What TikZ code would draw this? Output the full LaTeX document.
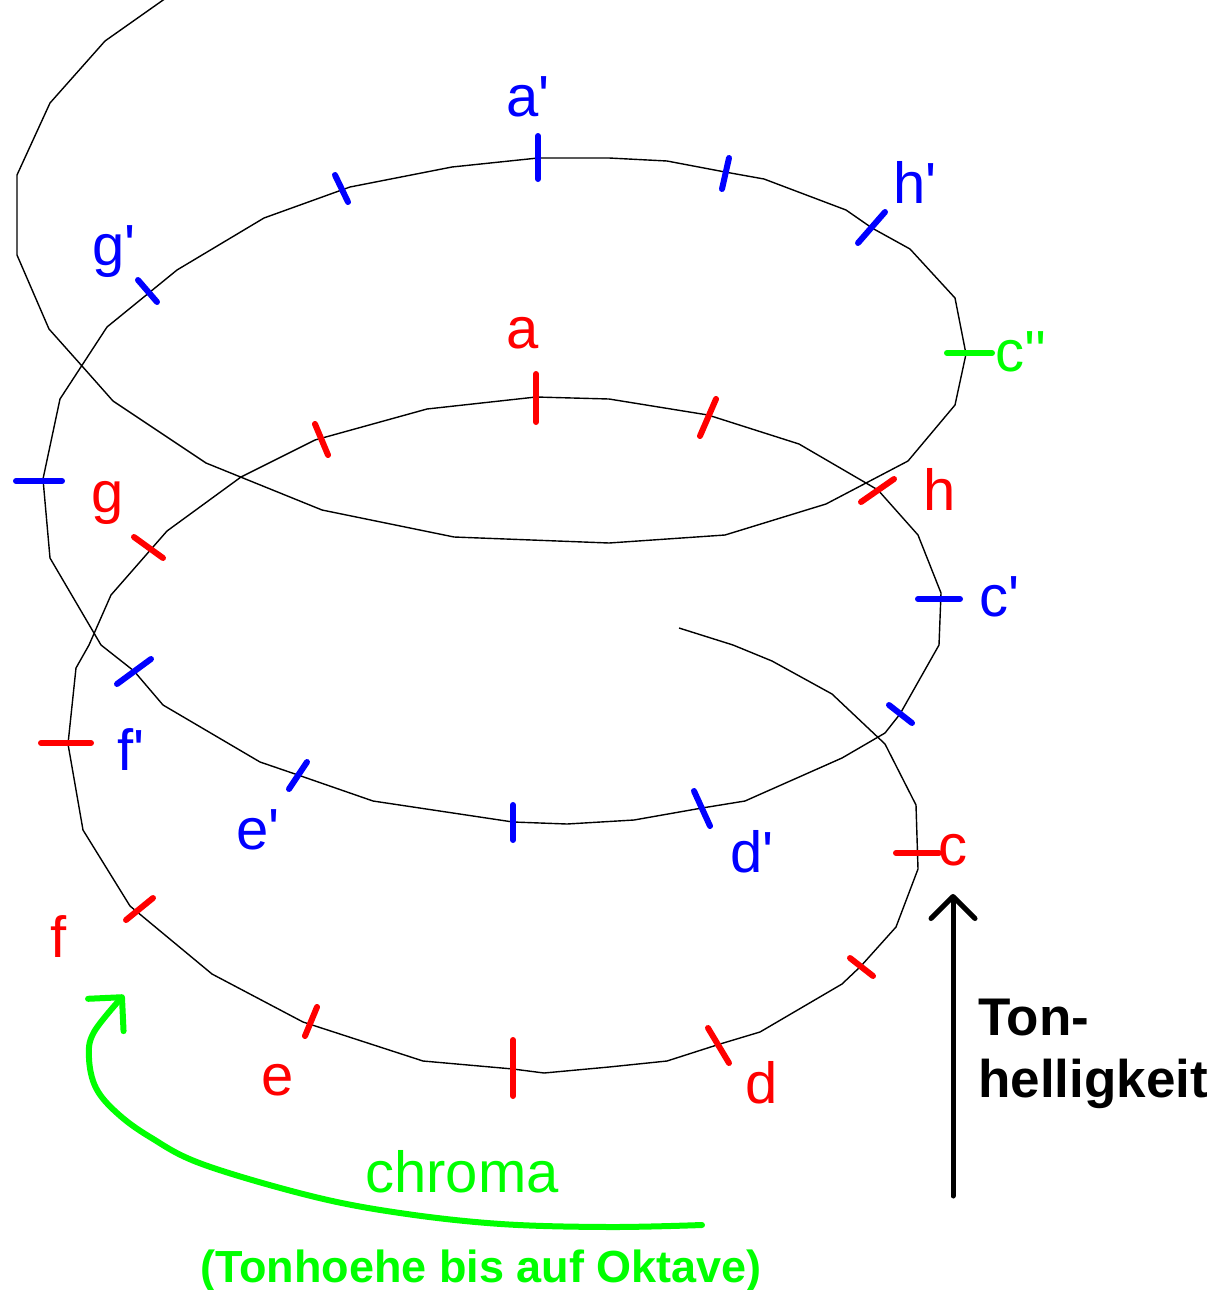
\documentclass[tikz,border=0pt]{standalone}
\usepackage{fontspec}
\setmainfont{Liberation Sans}
\usepackage{tikz}
\usetikzlibrary{arrows.meta}
\definecolor{tonred}{HTML}{FF0000}
\definecolor{tonblue}{HTML}{0000FF}
\definecolor{tongreen}{HTML}{00FF00}
\newcommand{\apos}{\textquotesingle}

\begin{document}
\begin{tikzpicture}[x=0.5pt, y=-0.5pt,
    helix/.style={black, line width=0.7pt, line join=round},
    tick/.style={line width=3pt, line cap=round},
    lbl/.style={font=\fontsize{29}{34}\selectfont, inner sep=0pt},
    axislbl/.style={font=\bfseries\fontsize{26.5}{31}\selectfont, inner sep=0pt, align=left}]
    \useasboundingbox (0,0) rectangle (1218,1290);

    % the spiral, drawn as one polyline
    \draw[helix] (679,628) -- (733,645) -- (772,661) -- (832,694) -- (885,744) -- (916,805)
      -- (918,869) -- (896,927) -- (861,966) -- (842,984) -- (760,1032) -- (720,1044)
      -- (667,1061) -- (609,1067) -- (544,1073) -- (513,1069) -- (423,1061) -- (303,1022)
      -- (212,974) -- (130,906) -- (83,830) -- (68,744) -- (76,668) -- (89,645) -- (111,595)
      -- (167,531) -- (241,477) -- (315,440) -- (427,409) -- (536,397) -- (609,399)
      -- (708,415) -- (799,444) -- (878,490) -- (918,535) -- (941,593) -- (939,645)
      -- (900,714) -- (885,733) -- (842,758) -- (745,801) -- (702,808) -- (634,820)
      -- (567,824) -- (513,822) -- (373,801) -- (298,775) -- (260,762) -- (163,705)
      -- (134,671) -- (101,645) -- (50,558) -- (43,479) -- (60,399) -- (107,327)
      -- (150,292) -- (177,270) -- (264,218) -- (350,187) -- (452,167) -- (538,158)
      -- (609,158) -- (667,161) -- (725,172) -- (764,179) -- (846,210) -- (872,228)
      -- (910,249) -- (955,298) -- (966,354) -- (955,405) -- (908,461) -- (826,504)
      -- (725,535) -- (609,543) -- (454,537) -- (322,510) -- (206,463) -- (113,401)
      -- (82,366) -- (49,329) -- (17,255) -- (17,175) -- (50,103) -- (105,41) -- (166,-2);

    % lower octave
    \draw[tick, tonred] (896,853) -- (939,853);
    \draw[tick, tonred] (850,958) -- (873,976);
    \draw[tick, tonred] (708,1028) -- (729,1063);
    \draw[tick, tonred] (513,1040) -- (513,1096);
    \draw[tick, tonred] (317,1007) -- (305,1036);
    \draw[tick, tonred] (153,898) -- (126,920);
    \draw[tick, tonred] (41,743) -- (91,743);
    \draw[tick, tonred] (134,537) -- (163,558);
    \draw[tick, tonred] (315,424) -- (328,455);
    \draw[tick, tonred] (536,374) -- (536,422);
    \draw[tick, tonred] (716,399) -- (700,436);
    \draw[tick, tonred] (894,479) -- (861,502);
    % upper octave
    \draw[tick, tonblue] (918,599) -- (960,599);
    \draw[tick, tonblue] (889,705) -- (912,723);
    \draw[tick, tonblue] (694,791) -- (710,826);
    \draw[tick, tonblue] (513,805) -- (513,840);
    \draw[tick, tonblue] (307,762) -- (289,789);
    \draw[tick, tonblue] (151,659) -- (117,684);
    \draw[tick, tonblue] (16,481) -- (62,481);
    \draw[tick, tonblue] (138,280) -- (157,302);
    \draw[tick, tonblue] (335,175) -- (348,202);
    \draw[tick, tonblue] (538,136) -- (538,179);
    \draw[tick, tonblue] (729,158) -- (722,189);
    \draw[tick, tonblue] (885,212) -- (858,243);
    \draw[tick, tongreen] (947,353) -- (992,353);

    \node[lbl, tonred] (c) at (953,850) {c};
    \node[lbl, tonred] (d) at (762,1083) {d};
    \node[lbl, tonred] (e) at (278,1080) {e};
    \node[lbl, tonred] (f) at (59,937) {f};
    \node[lbl, tonred] (g) at (108,503) {g};
    \node[lbl, tonred] (a) at (523,333) {a};
    \node[lbl, tonred] (h) at (940,489) {h};
    \node[lbl, tonblue] (c1) at (1000,597) {c\apos};
    \node[lbl, tonblue] (d1) at (752,852) {d\apos};
    \node[lbl, tonblue] (e1) at (258,830) {e\apos};
    \node[lbl, tonblue] (f1) at (131,750) {f\apos};
    \node[lbl, tonblue] (g1) at (114,252) {g\apos};
    \node[lbl, tonblue] (a1) at (528,97) {a\apos};
    \node[lbl, tonblue] (h1) at (915,182) {h\apos};
    \node[lbl, tongreen] (c2) at (1021,352) {c\apos\apos};

    % chroma arrow
    \coordinate (chromaS) at (702,1225);
    \coordinate (chromaE) at (124,995);
    \draw[tongreen, line width=3pt, line cap=round,
      -{Straight Barb[length=12pt, width=24pt, round]}]
      plot[smooth, tension=0.6] coordinates {(chromaS) (609,1227) (501,1224) (400,1213)
        (311,1196) (202,1164) (150,1137) (117,1113) (96,1088) (89,1058) (94,1032) (chromaE)};
    \node[lbl, tongreen] (chroma) at (462,1172) {chroma};
    \node[font=\bfseries\fontsize{22.5}{27}\selectfont, inner sep=0pt, tongreen, anchor=base]
      (oktave) at (481,1282) {(Tonhoehe bis auf Oktave)};

    % height arrow
    \coordinate (hellS) at (953,1196);
    \coordinate (hellE) at (953,894);
    \draw[black, line width=2.5pt, line cap=round,
      -{Straight Barb[length=11pt, width=22pt, round]}] (hellS) -- (hellE);
    \node[axislbl, anchor=north west] (hell) at (978,999) {Ton-\\helligkeit};
  \end{tikzpicture}
\end{document}
